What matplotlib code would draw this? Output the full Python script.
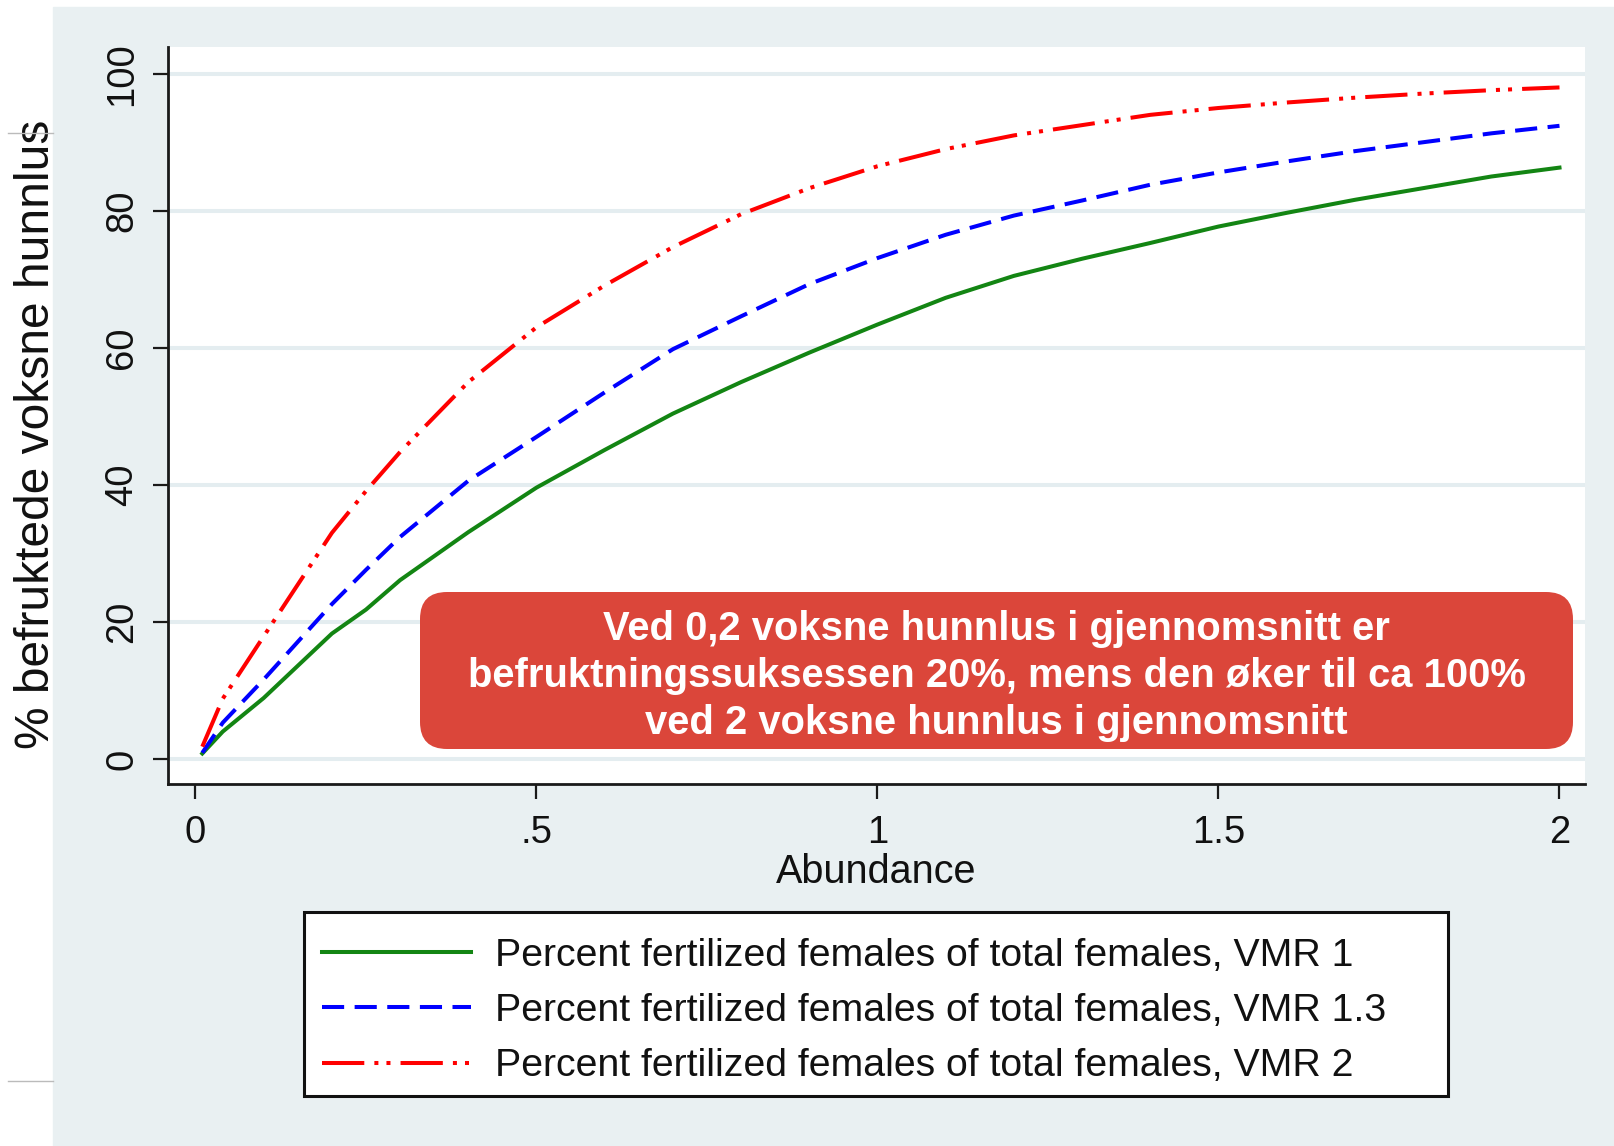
import matplotlib
matplotlib.use("Agg")
import matplotlib.pyplot as plt
from matplotlib.patches import Rectangle, FancyBboxPatch
from matplotlib.lines import Line2D

# ----------------------------
# Data
# ----------------------------
abundance = [0.01, 0.04, 0.1, 0.2, 0.25, 0.3, 0.4, 0.5, 0.6, 0.7, 0.8, 0.9,
             1.0, 1.1, 1.2, 1.3, 1.4, 1.5, 1.6, 1.7, 1.8, 1.9, 2.0]
vmr1 = [0.8, 4.0, 8.9, 18.3, 21.8, 26.1, 33.1, 39.6, 45.1, 50.4, 55.0, 59.3,
        63.4, 67.3, 70.5, 73.0, 75.3, 77.7, 79.7, 81.6, 83.3, 85.0, 86.3]
vmr13 = [0.9, 5.3, 11.6, 22.6, 27.6, 32.4, 40.6, 47.0, 53.5, 59.8, 64.6, 69.3,
         73.1, 76.5, 79.3, 81.5, 83.8, 85.6, 87.2, 88.7, 90.0, 91.3, 92.4]
vmr2 = [1.8, 8.8, 17.9, 33.0, 39.1, 44.8, 55.0, 63.0, 69.1, 74.7, 79.5, 83.3,
        86.5, 89.0, 91.0, 92.5, 94.0, 95.0, 95.8, 96.5, 97.1, 97.6, 98.0]

series_labels = [
    "Percent fertilized females of total females, VMR 1",
    "Percent fertilized females of total females, VMR 1.3",
    "Percent fertilized females of total females, VMR 2",
]
x_ticks = [0, 0.5, 1, 1.5, 2]
x_tick_labels = ["0", ".5", "1", "1.5", "2"]
y_ticks = [0, 20, 40, 60, 80, 100]

note_text = ("Ved 0,2 voksne hunnlus i gjennomsnitt er\n"
             "befruktningssuksessen 20%, mens den øker til ca 100%\n"
             "ved 2 voksne hunnlus i gjennomsnitt")

# ----------------------------
# Style
# ----------------------------
BG = "#E9F0F2"
GRID = "#E4EDF0"
GREEN = "#138513"
BLUE = "#0000FF"
RED = "#FF0000"
BOX_RED = "#DB463A"
INK = "#111111"

plt.rcParams.update({
    "font.family": ["Liberation Sans", "DejaVu Sans"],
    "font.size": 28,
})

W, H = 1614, 1146
fig = plt.figure(figsize=(W / 100, H / 100), dpi=100)
fig.patch.set_facecolor("white")

# slide-like grey panel and the small marks in the left margin
fig.add_artist(Rectangle((53 / W, 0), 1 - 53 / W, 1 - 7 / H,
                         transform=fig.transFigure, color=BG, zorder=-10))
fig.add_artist(Line2D([8 / W, 53 / W], [1 - 133 / H] * 2, color="#BBBBBB", lw=1))
fig.add_artist(Line2D([8 / W, 53 / W], [1 - 1081 / H] * 2, color="#BBBBBB", lw=1))

ax = fig.add_axes([168 / W, 1 - 784 / H, 1417 / W, 737 / H])
ax.set_facecolor("white")

lw = 2.9
ax.plot(abundance, vmr1, color=GREEN, lw=lw, label=series_labels[0])
ax.plot(abundance, vmr13, color=BLUE, lw=lw, linestyle=(0, (5.5, 2.6)),
        label=series_labels[1])
ax.plot(abundance, vmr2, color=RED, lw=lw,
        linestyle=(0, (10.5, 2.5, 1, 2, 1, 2.5)), label=series_labels[2])

ax.set_xlim(-0.0403, 2.0374)
ax.set_ylim(-3.65, 103.9)
ax.set_xticks(x_ticks)
ax.set_xticklabels(x_tick_labels)
ax.set_yticks(y_ticks)
ax.set_yticklabels([str(v) for v in y_ticks], rotation=90, va="center")
ax.grid(axis="y", color=GRID, lw=2.9)
ax.set_axisbelow(True)

for side in ["top", "right"]:
    ax.spines[side].set_visible(False)
for side in ["left", "bottom"]:
    ax.spines[side].set_linewidth(2.0)
    ax.spines[side].set_color("#1A1A1A")
ax.tick_params(axis="both", length=11, width=1.6, color="#1A1A1A",
               labelsize=27.5, labelcolor=INK)
ax.tick_params(axis="y", pad=9)
ax.tick_params(axis="x", pad=11)

ax.set_xlabel("Abundance", fontsize=28.5, labelpad=2, color=INK)
ax.set_ylabel("% befruktede voksne hunnlus", fontsize=34.5, color=INK)
ax.yaxis.set_label_coords(-0.077, 0.474)

# legend below the plot, with a fixed-size frame drawn separately
fig.add_artist(Rectangle((304 / W, 1 - 1096 / H), 1144 / W, 184 / H,
                         transform=fig.transFigure, facecolor="white",
                         edgecolor=INK, lw=2.2, zorder=1))
leg = fig.legend(loc="center left", bbox_to_anchor=(322 / W, 1 - 1011 / H),
                 fontsize=28.3, frameon=False,
                 handlelength=3.8, handletextpad=0.6, borderpad=0,
                 labelspacing=0.49, borderaxespad=0)
leg.set_zorder(2)
for t in leg.get_texts():
    t.set_color(INK)

# red note box
box = FancyBboxPatch((4.20, (H - 749) / 100), 11.53, 1.57,
                     boxstyle="round,pad=0,rounding_size=0.27",
                     transform=fig.dpi_scale_trans, facecolor=BOX_RED,
                     edgecolor="none", zorder=5)
fig.add_artist(box)
fig.text(9.965, (H - 676) / 100, note_text, transform=fig.dpi_scale_trans,
         ha="center", va="center", color="white", fontsize=28.8,
         fontweight="bold", linespacing=1.3, zorder=6)

fig.savefig("out.png", dpi=100)
